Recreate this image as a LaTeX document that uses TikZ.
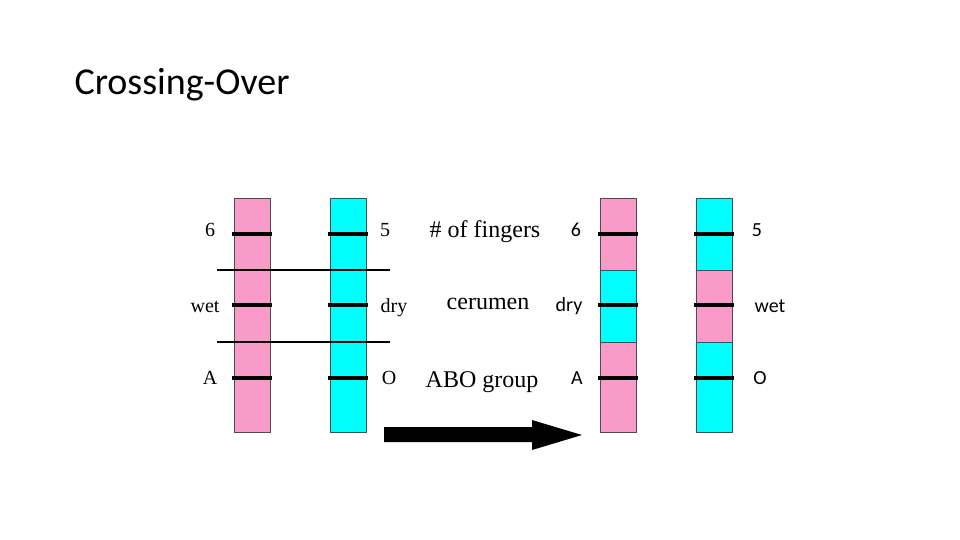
\documentclass[tikz,border=0pt]{standalone}
\usepackage{fontspec}
\setmainfont{Liberation Serif}
\newfontfamily\calib{Carlito}
\definecolor{chrpink}{RGB}{249,155,200}
\definecolor{chrcyan}{RGB}{0,255,255}
\tikzset{
  chrom/.style={draw=black!70,line width=0.6pt},
  locus/.style={line width=3.5pt},
  cut/.style={line width=2pt},
  serlab/.style={font=\fontsize{20}{22}\selectfont},
  traitlab/.style={font=\fontsize{24}{26}\selectfont},
  sanslab/.style={font=\calib\fontsize{20}{22}\selectfont}
}
\begin{document}
\begin{tikzpicture}[x=1pt,y=-1pt]
\useasboundingbox (0,0) rectangle (960,540);
\node[font=\calib\fontsize{38}{40}\selectfont,anchor=base west] (title) at (71,95) {Crossing-Over};
% before crossing over
\filldraw[chrom,fill=chrpink] (234,198) rectangle (270,432);
\filldraw[chrom,fill=chrcyan] (330,198) rectangle (366,432);
% after crossing over
\filldraw[chrom,fill=chrpink] (600,198) rectangle (636,432);
\filldraw[chrom,fill=chrcyan] (600,270) rectangle (636,342);
\filldraw[chrom,fill=chrcyan] (696,198) rectangle (732,432);
\filldraw[chrom,fill=chrpink] (696,270) rectangle (732,342);
% loci
\foreach \y in {234,305,378}{
  \draw[locus] (232,\y) -- (272,\y);
  \draw[locus] (328,\y) -- (368,\y);
  \draw[locus] (598,\y) -- (638,\y);
  \draw[locus] (694,\y) -- (734,\y);
}
\draw[cut] (217,270) -- (390,270);
\draw[cut] (217,342) -- (390,342);
% labels
\node[serlab] (l1) at (210,230) {6};
\node[serlab] (l2) at (205,307) {wet};
\node[serlab] (l3) at (210,378) {A};
\node[serlab] (r1) at (385,230) {5};
\node[serlab] (r2) at (394,308) {dry};
\node[serlab] (r3) at (389,378) {O};
\node[traitlab] (t1) at (485,232) {\# of fingers};
\node[traitlab] (t2) at (488,304) {cerumen};
\node[traitlab] (t3) at (482,382) {ABO group};
\node[sanslab] (a1) at (576,230) {6};
\node[sanslab] (a2) at (569,306) {dry};
\node[sanslab] (a3) at (577,378) {A};
\node[sanslab] (b1) at (757,230) {5};
\node[sanslab] (b2) at (770,306) {wet};
\node[sanslab] (b3) at (760,378) {O};
% arrow
\fill (384,427) -- (532,427) -- (532,420) -- (582,435) -- (532,450) -- (532,442) -- (384,442) -- cycle;
\end{tikzpicture}
\end{document}
